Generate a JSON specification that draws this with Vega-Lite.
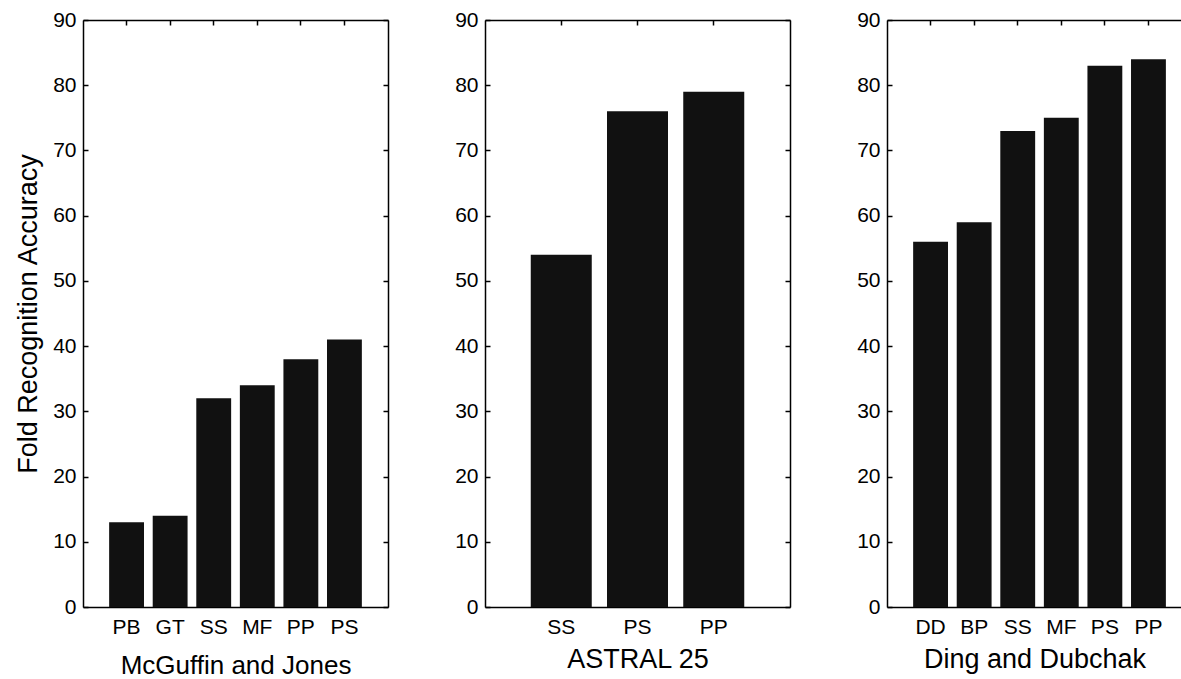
{
  "$schema": "https://vega.github.io/schema/vega-lite/v6.json",
  "background": "white",
  "padding": {"left": 14, "top": 9, "right": 0, "bottom": 0},
  "config": {
    "font": "Liberation Sans",
    "view": {"stroke": null},
    "axis": {
      "labelFont": "Liberation Sans",
      "titleFont": "Liberation Sans",
      "labelFontSize": 21,
      "titleFontSize": 27,
      "titleFontWeight": "normal",
      "labelColor": "#000",
      "titleColor": "#000",
      "domainColor": "#000",
      "tickColor": "#000",
      "domainWidth": 1.5,
      "tickWidth": 1.5,
      "grid": false,
      "zindex": 1
    }
  },
  "spacing": 97,
  "bounds": "flush",
  "hconcat": [
    {
      "width": 305,
      "height": 587,
      "data": {"values": [
        {"method": "PB", "accuracy": 13},
        {"method": "GT", "accuracy": 14},
        {"method": "SS", "accuracy": 32},
        {"method": "MF", "accuracy": 34},
        {"method": "PP", "accuracy": 38},
        {"method": "PS", "accuracy": 41}
      ]},
      "layer": [
        {
          "mark": {"type": "bar", "color": "#111111"},
          "encoding": {
            "x": {"field": "method", "type": "nominal", "sort": null,
              "scale": {"paddingInner": 0.2, "paddingOuter": 0.6},
              "axis": {"orient": "bottom", "title": "McGuffin and Jones", "labelAngle": 0, "ticks": false, "labelPadding": 9, "titlePadding": 15, "titleFontSize": 26}},
            "y": {"field": "accuracy", "type": "quantitative",
              "scale": {"domain": [0, 90], "nice": false},
              "axis": {"orient": "left", "values": [0, 10, 20, 30, 40, 50, 60, 70, 80, 90], "title": "Fold Recognition Accuracy", "tickSize": -5, "labelPadding": 12, "titlePadding": 10}}
          }
        },
        {
          "mark": {"type": "bar", "opacity": 0},
          "encoding": {
            "x": {"field": "method", "type": "nominal", "sort": null,
              "axis": {"orient": "top", "labels": false, "title": null, "tickSize": -5}},
            "y": {"field": "accuracy", "type": "quantitative",
              "axis": {"orient": "right", "labels": false, "title": null, "values": [0, 10, 20, 30, 40, 50, 60, 70, 80, 90], "tickSize": -5}}
          }
        }
      ],
      "resolve": {"axis": {"x": "independent", "y": "independent"}}
    },
    {
      "width": 305,
      "height": 587,
      "data": {"values": [
        {"method": "SS", "accuracy": 54},
        {"method": "PS", "accuracy": 76},
        {"method": "PP", "accuracy": 79}
      ]},
      "layer": [
        {
          "mark": {"type": "bar", "color": "#111111"},
          "encoding": {
            "x": {"field": "method", "type": "nominal", "sort": null,
              "scale": {"paddingInner": 0.2, "paddingOuter": 0.6},
              "axis": {"orient": "bottom", "title": "ASTRAL 25", "labelAngle": 0, "ticks": false, "labelPadding": 9, "titlePadding": 9}},
            "y": {"field": "accuracy", "type": "quantitative",
              "scale": {"domain": [0, 90], "nice": false},
              "axis": {"orient": "left", "values": [0, 10, 20, 30, 40, 50, 60, 70, 80, 90], "title": null, "tickSize": -5, "labelPadding": 12}}
          }
        },
        {
          "mark": {"type": "bar", "opacity": 0},
          "encoding": {
            "x": {"field": "method", "type": "nominal", "sort": null,
              "axis": {"orient": "top", "labels": false, "title": null, "tickSize": -5}},
            "y": {"field": "accuracy", "type": "quantitative",
              "axis": {"orient": "right", "labels": false, "title": null, "values": [0, 10, 20, 30, 40, 50, 60, 70, 80, 90], "tickSize": -5}}
          }
        }
      ],
      "resolve": {"axis": {"x": "independent", "y": "independent"}}
    },
    {
      "width": 295,
      "height": 587,
      "data": {"values": [
        {"method": "DD", "accuracy": 56},
        {"method": "BP", "accuracy": 59},
        {"method": "SS", "accuracy": 73},
        {"method": "MF", "accuracy": 75},
        {"method": "PS", "accuracy": 83},
        {"method": "PP", "accuracy": 84}
      ]},
      "layer": [
        {
          "mark": {"type": "bar", "color": "#111111"},
          "encoding": {
            "x": {"field": "method", "type": "nominal", "sort": null,
              "scale": {"paddingInner": 0.2, "paddingOuter": 0.485, "align": 0.6186},
              "axis": {"orient": "bottom", "title": "Ding and Dubchak", "labelAngle": 0, "ticks": false, "labelPadding": 9, "titlePadding": 9}},
            "y": {"field": "accuracy", "type": "quantitative",
              "scale": {"domain": [0, 90], "nice": false},
              "axis": {"orient": "left", "values": [0, 10, 20, 30, 40, 50, 60, 70, 80, 90], "title": null, "tickSize": -5, "labelPadding": 12}}
          }
        },
        {
          "mark": {"type": "bar", "opacity": 0},
          "encoding": {
            "x": {"field": "method", "type": "nominal", "sort": null,
              "axis": {"orient": "top", "labels": false, "title": null, "tickSize": -5}}
          }
        }
      ],
      "resolve": {"axis": {"x": "independent"}}
    }
  ]
}
